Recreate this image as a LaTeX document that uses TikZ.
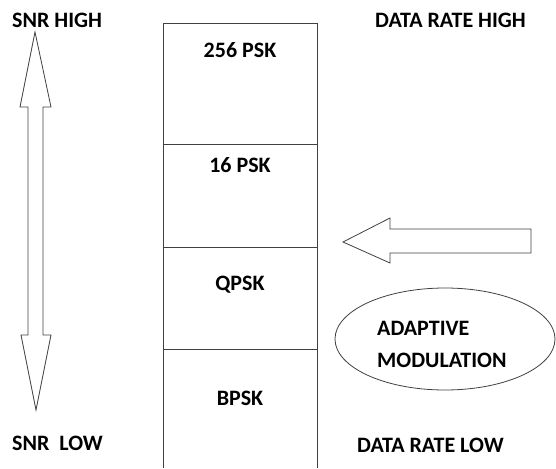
\documentclass[tikz,border=0pt]{standalone}
\usepackage{fontspec}
\setmainfont{Carlito}
\begin{document}
\begin{tikzpicture}[x=1pt,y=-1pt,
  lbl/.style={font=\fontsize{22}{26}\selectfont\bfseries, inner sep=0pt},
  shp/.style={draw=black!75, line width=0.8pt, line join=miter}]
\useasboundingbox (0,0) rectangle (556,468);
% column
\draw[shp] (163,468) -- (163,23) -- (317,23) -- (317,468);
\draw[shp] (163,144) -- (317,144);
\draw[shp] (163,247) -- (317,247);
\draw[shp] (163,349) -- (317,349);
\node[lbl] (m256) at (240,50) {256 PSK};
\node[lbl] (m16) at (240,165) {16 PSK};
\node[lbl] (mq) at (240,285) {QPSK};
\node[lbl] (mb) at (240,398) {BPSK};
% double arrow
\draw[shp] (35,32) -- (51,107) -- (43,107) -- (43,335) -- (51,335) -- (36,410)
  -- (21,335) -- (28,335) -- (28,107) -- (20,107) -- cycle;
% left arrow
\draw[shp] (343,242) -- (390,218) -- (390,229) -- (531,229) -- (531,253) -- (390,253) -- (390,263) -- cycle;
% ellipse
\draw[shp] (445,339) ellipse [x radius=110, y radius=51];
\node[lbl, anchor=west] (ad) at (377,328) {ADAPTIVE};
\node[lbl, anchor=west] (mo) at (377,360) {MODULATION};
% corner labels
\node[lbl, anchor=west] (sh) at (12,20) {SNR HIGH};
\node[lbl, anchor=west] (sl) at (12,443) {SNR\ \ LOW};
\node[lbl, anchor=west] (dh) at (375,20) {DATA RATE HIGH};
\node[lbl, anchor=west] (dl) at (357,445) {DATA RATE LOW};
\end{tikzpicture}
\end{document}
